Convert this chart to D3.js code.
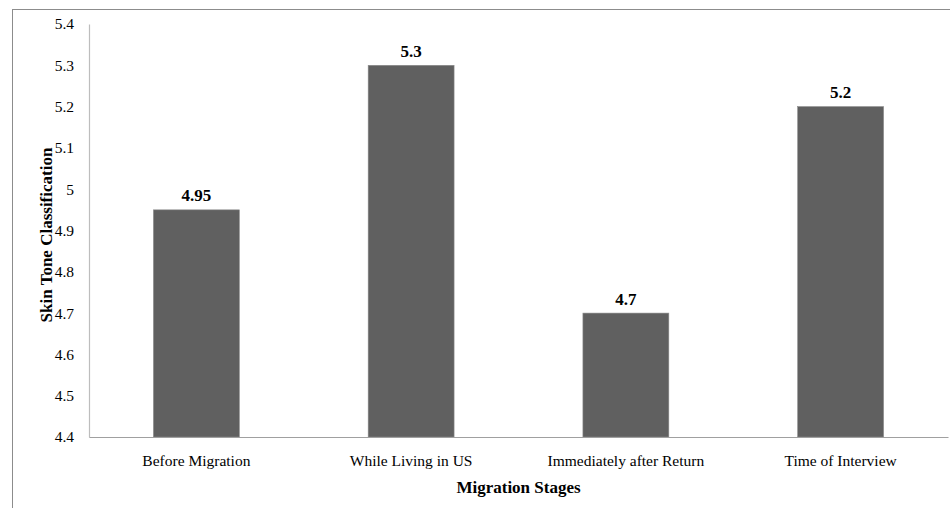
<!DOCTYPE html>
<html>
<head>
<meta charset="utf-8">
<script src="https://cdn.jsdelivr.net/npm/d3@7"></script>
<style>
  html, body { margin: 0; padding: 0; background: #fff; }
  svg { display: block; }
  text { font-family: "Liberation Serif", "Times New Roman", serif; fill: #000; }
</style>
</head>
<body>
<svg id="chart" width="950" height="508"></svg>
<script>
// Mean skin tone classification at each migration stage
const stages = ["Before Migration", "While Living in US", "Immediately after Return", "Time of Interview"];
const values = [4.95, 5.3, 4.7, 5.2];
const valueLabels = ["4.95", "5.3", "4.7", "5.2"];
const yTicks = [4.4, 4.5, 4.6, 4.7, 4.8, 4.9, 5.0, 5.1, 5.2, 5.3, 5.4];
const yTickLabels = ["4.4", "4.5", "4.6", "4.7", "4.8", "4.9", "5", "5.1", "5.2", "5.3", "5.4"];

const svg = d3.select("#chart");
const W = 950, H = 508;
const plot = { left: 89, right: 948, top: 24, bottom: 437 };

// Outer frame (runs off the right and bottom edges)
svg.append("rect")
  .attr("x", 12.5).attr("y", 9.5)
  .attr("width", W).attr("height", H)
  .attr("fill", "none")
  .attr("stroke", "#8c8c8c")
  .attr("stroke-width", 1);

const x = d3.scaleBand()
  .domain(stages)
  .range([plot.left, plot.right])
  .paddingInner(0)
  .paddingOuter(0);

const y = d3.scaleLinear()
  .domain([4.4, 5.4])
  .range([plot.bottom, plot.top]);

const barW = x.bandwidth() * 0.4;

// Bars
svg.append("g").selectAll("rect")
  .data(values)
  .join("rect")
  .attr("x", (d, i) => x(stages[i]) + x.bandwidth() / 2 - barW / 2)
  .attr("y", d => y(d))
  .attr("width", barW)
  .attr("height", d => y(4.4) - y(d))
  .attr("fill", "#606060")
  .attr("stroke", "#8a8a8a")
  .attr("stroke-width", 0.6);

// Value labels above bars
svg.append("g").selectAll("text")
  .data(values)
  .join("text")
  .attr("x", (d, i) => x(stages[i]) + x.bandwidth() / 2)
  .attr("y", d => y(d) - 8.5)
  .attr("text-anchor", "middle")
  .style("font-size", "17px")
  .style("font-weight", "bold")
  .text((d, i) => valueLabels[i]);

// Y axis
const yAxis = d3.axisLeft(y)
  .tickValues(yTicks)
  .tickFormat((d, i) => yTickLabels[i])
  .tickSize(0)
  .tickPadding(15);
const gy = svg.append("g")
  .attr("transform", `translate(${plot.left},0)`)
  .call(yAxis);
gy.select(".domain").attr("stroke", "#bdbdbd").attr("stroke-width", 1.2);
gy.selectAll("text")
  .style("font-family", "'Liberation Serif', 'Times New Roman', serif")
  .style("font-size", "15.5px")
  .attr("fill", "#000");

// X axis
const xAxis = d3.axisBottom(x).tickSize(0).tickPadding(18);
const gx = svg.append("g")
  .attr("transform", `translate(0,${plot.bottom})`)
  .call(xAxis);
gx.select(".domain").attr("stroke", "#a0a0a0").attr("stroke-width", 1.2);
gx.selectAll("text")
  .style("font-family", "'Liberation Serif', 'Times New Roman', serif")
  .style("font-size", "15.5px")
  .attr("fill", "#000");

// Axis titles
svg.append("text")
  .attr("x", (plot.left + plot.right) / 2)
  .attr("y", 493)
  .attr("text-anchor", "middle")
  .style("font-size", "17px")
  .style("font-weight", "bold")
  .text("Migration Stages");

svg.append("text")
  .attr("transform", `translate(52,235) rotate(-90)`)
  .attr("text-anchor", "middle")
  .style("font-size", "17px")
  .style("font-weight", "bold")
  .text("Skin Tone Classification");
</script>
</body>
</html>
